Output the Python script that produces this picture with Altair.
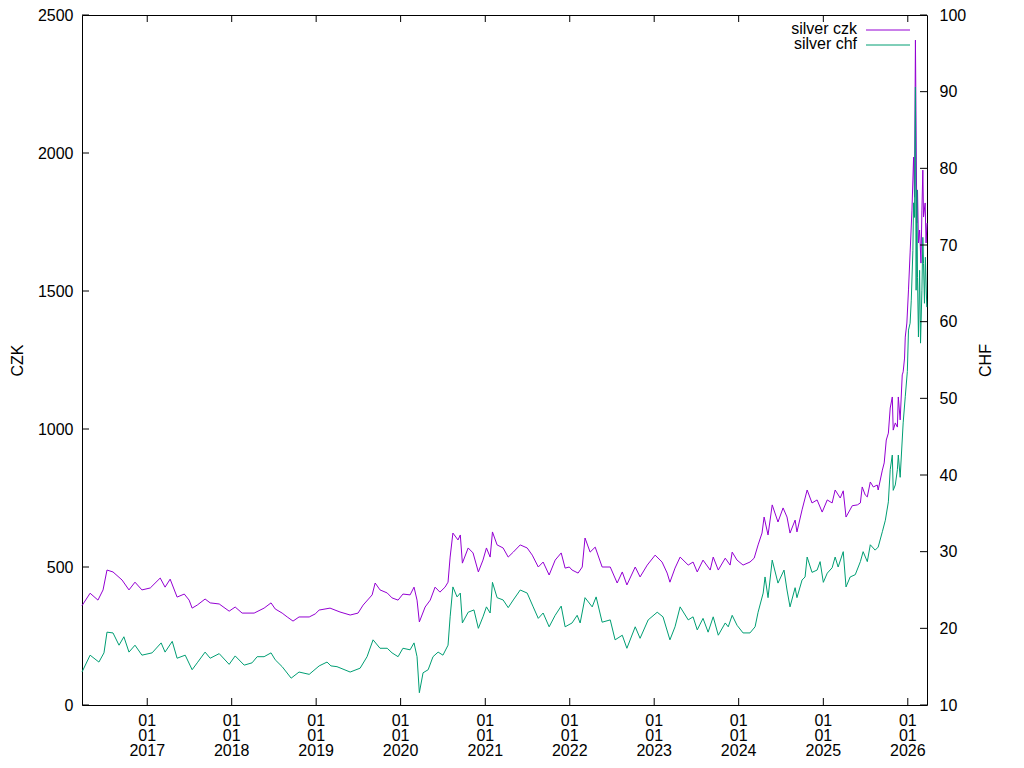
import altair as alt
import pandas as pd

# ---------------- data ----------------
czk_dates = [
    "2016-03-25", "2016-04-29", "2016-06-02", "2016-06-24", "2016-07-11", "2016-08-06", "2016-09-14",
    "2016-10-14", "2016-11-09", "2016-12-09", "2017-01-14", "2017-02-26", "2017-03-19", "2017-04-10",
    "2017-05-10", "2017-06-10", "2017-07-01", "2017-07-14", "2017-08-05", "2017-09-08", "2017-09-30",
    "2017-11-08", "2017-12-21", "2018-01-16", "2018-02-15", "2018-04-08", "2018-05-21", "2018-06-20",
    "2018-07-08", "2018-08-07", "2018-08-29", "2018-09-23", "2018-10-19", "2018-12-02", "2018-12-28",
    "2019-01-14", "2019-03-02", "2019-04-14", "2019-05-28", "2019-07-01", "2019-07-23", "2019-08-31",
    "2019-09-13", "2019-10-04", "2019-11-04", "2019-11-25", "2019-12-21", "2020-01-11", "2020-02-11",
    "2020-02-28", "2020-03-12", "2020-03-22", "2020-04-16", "2020-05-08", "2020-05-29", "2020-06-19",
    "2020-07-11", "2020-07-24", "2020-08-02", "2020-08-14", "2020-09-05", "2020-09-15", "2020-09-24",
    "2020-10-19", "2020-11-09", "2020-12-02", "2020-12-22", "2021-01-06", "2021-01-22", "2021-02-01",
    "2021-02-21", "2021-03-19", "2021-04-10", "2021-05-02", "2021-06-01", "2021-07-01", "2021-07-23",
    "2021-08-18", "2021-09-08", "2021-10-04", "2021-10-30", "2021-11-25", "2021-12-12", "2021-12-30",
    "2022-01-11", "2022-02-06", "2022-02-24", "2022-03-08", "2022-03-30", "2022-04-21", "2022-05-21",
    "2022-06-25", "2022-07-25", "2022-08-16", "2022-09-05", "2022-10-11", "2022-11-01", "2022-12-02",
    "2023-01-05", "2023-02-04", "2023-02-26", "2023-03-10", "2023-04-01", "2023-04-23", "2023-05-28",
    "2023-06-18", "2023-07-06", "2023-07-31", "2023-08-31", "2023-09-13", "2023-10-05", "2023-11-04",
    "2023-11-25", "2023-12-04", "2023-12-25", "2024-01-20", "2024-02-19", "2024-03-08", "2024-03-25",
    "2024-04-11", "2024-04-20", "2024-05-07", "2024-05-25", "2024-06-19", "2024-07-11", "2024-07-28",
    "2024-08-10", "2024-09-01", "2024-09-09", "2024-10-01", "2024-10-23", "2024-11-13", "2024-12-05",
    "2024-12-27", "2025-01-18", "2025-02-08", "2025-02-21", "2025-03-15", "2025-03-28", "2025-04-09",
    "2025-05-06", "2025-05-28", "2025-06-10", "2025-06-18", "2025-07-01", "2025-07-10", "2025-07-23",
    "2025-08-05", "2025-08-22", "2025-08-26", "2025-09-13", "2025-09-21", "2025-09-30", "2025-10-09",
    "2025-10-17", "2025-10-26", "2025-10-30", "2025-11-08", "2025-11-17", "2025-11-21", "2025-11-29",
    "2025-12-08", "2025-12-12", "2025-12-18", "2025-12-21", "2025-12-28", "2026-01-04", "2026-01-11",
    "2026-01-19", "2026-01-23", "2026-01-26", "2026-01-30", "2026-02-03", "2026-02-09", "2026-02-12",
    "2026-02-16", "2026-02-21", "2026-02-27", "2026-03-03", "2026-03-07", "2026-03-10", "2026-03-17",
    "2026-03-21", "2026-03-25",
]
czk_values = [
    360, 405, 380, 417, 489, 482, 453,
    417, 445, 417, 424, 460, 427, 456,
    391, 402, 380, 351, 362, 384, 370,
    366, 340, 355, 333, 333, 351, 370,
    348, 333, 319, 304, 319, 319, 330,
    344, 351, 337, 326, 333, 362, 399,
    442, 417, 406, 388, 380, 402, 399,
    427, 380, 301, 355, 380, 427, 409,
    427, 445, 536, 623, 598, 616, 514,
    569, 551, 482, 525, 569, 536, 627,
    580, 569, 536, 554, 580, 569, 543,
    500, 518, 471, 525, 551, 496, 500,
    489, 478, 500, 605, 554, 572, 500,
    500, 442, 482, 435, 500, 464, 507,
    543, 518, 478, 445, 496, 536, 507,
    518, 482, 525, 489, 536, 489, 532,
    507, 554, 525, 507, 518, 532, 580,
    623, 681, 616, 725, 663, 714, 681,
    623, 670, 627, 707, 779, 732, 743,
    699, 743, 732, 779, 750, 776, 681,
    722, 725, 732, 790, 761, 754, 808,
    790, 797, 779, 851, 877, 960, 985,
    1076, 1116, 996, 1022, 1007, 1116, 1033,
    1196, 1207, 1257, 1333, 1384, 1504, 1638,
    1793, 1902, 1985, 1840, 2409, 1746, 1866,
    1674, 1721, 1601, 1793, 1938, 1768, 1819,
    1674, 1746,
]

chf_dates = [
    "2016-03-25", "2016-04-29", "2016-06-06", "2016-06-28", "2016-07-11", "2016-08-06", "2016-09-01",
    "2016-09-22", "2016-10-14", "2016-11-09", "2016-12-09", "2017-01-22", "2017-03-02", "2017-03-19",
    "2017-04-19", "2017-05-10", "2017-06-14", "2017-07-14", "2017-08-05", "2017-09-08", "2017-09-30",
    "2017-11-08", "2017-12-21", "2018-01-16", "2018-02-24", "2018-03-30", "2018-04-21", "2018-05-21",
    "2018-06-20", "2018-07-08", "2018-08-07", "2018-09-15", "2018-10-19", "2018-12-02", "2019-01-14",
    "2019-02-17", "2019-03-06", "2019-04-01", "2019-05-28", "2019-07-10", "2019-08-09", "2019-09-04",
    "2019-10-04", "2019-11-04", "2019-11-25", "2019-12-21", "2020-01-11", "2020-02-11", "2020-02-28",
    "2020-03-12", "2020-03-22", "2020-04-07", "2020-04-29", "2020-05-20", "2020-06-11", "2020-07-02",
    "2020-07-24", "2020-08-02", "2020-08-14", "2020-09-01", "2020-09-15", "2020-09-24", "2020-10-19",
    "2020-11-13", "2020-12-02", "2020-12-22", "2021-01-06", "2021-01-22", "2021-02-01", "2021-02-21",
    "2021-03-19", "2021-04-10", "2021-05-02", "2021-06-01", "2021-07-01", "2021-07-27", "2021-08-18",
    "2021-09-08", "2021-10-04", "2021-10-30", "2021-11-25", "2021-12-12", "2022-01-11", "2022-02-02",
    "2022-02-15", "2022-03-08", "2022-04-08", "2022-04-25", "2022-05-21", "2022-06-25", "2022-07-16",
    "2022-08-16", "2022-09-05", "2022-10-11", "2022-11-01", "2022-12-06", "2023-01-14", "2023-02-08",
    "2023-03-10", "2023-04-01", "2023-04-23", "2023-05-28", "2023-06-18", "2023-07-06", "2023-07-31",
    "2023-08-22", "2023-09-13", "2023-10-05", "2023-11-04", "2023-11-17", "2023-12-04", "2023-12-25",
    "2024-01-20", "2024-02-19", "2024-03-12", "2024-03-25", "2024-04-16", "2024-04-24", "2024-05-07",
    "2024-05-25", "2024-06-19", "2024-07-15", "2024-07-28", "2024-08-10", "2024-09-01", "2024-09-09",
    "2024-10-01", "2024-10-14", "2024-10-23", "2024-11-13", "2024-12-05", "2024-12-18", "2025-01-01",
    "2025-01-18", "2025-02-08", "2025-02-21", "2025-03-06", "2025-03-28", "2025-04-09", "2025-04-27",
    "2025-05-19", "2025-06-10", "2025-06-22", "2025-07-10", "2025-07-23", "2025-08-13", "2025-08-26",
    "2025-09-13", "2025-09-26", "2025-10-09", "2025-10-17", "2025-10-26", "2025-10-30", "2025-11-08",
    "2025-11-17", "2025-11-21", "2025-11-29", "2025-12-12", "2025-12-21", "2025-12-30", "2026-01-04",
    "2026-01-11", "2026-01-16", "2026-01-23", "2026-01-26", "2026-01-30", "2026-02-03", "2026-02-06",
    "2026-02-09", "2026-02-12", "2026-02-16", "2026-02-21", "2026-02-25", "2026-03-03", "2026-03-07",
    "2026-03-10", "2026-03-14", "2026-03-18", "2026-03-24",
]
chf_values = [
    14.3, 16.5, 15.6, 16.8, 19.5, 19.4, 17.8,
    18.9, 16.9, 17.8, 16.5, 16.8, 18.1, 16.9,
    18.3, 16.1, 16.5, 14.6, 15.5, 16.9, 16.1,
    16.7, 15.3, 16.4, 15.2, 15.5, 16.3, 16.3,
    16.8, 15.9, 15.0, 13.5, 14.3, 14.0, 15.1,
    15.6, 15.1, 15.0, 14.3, 14.8, 16.3, 18.5,
    17.4, 17.4, 16.8, 16.3, 17.4, 17.2, 18.1,
    16.3, 11.6, 14.2, 14.6, 16.3, 16.9, 16.5,
    17.8, 21.5, 25.4, 24.1, 24.6, 20.7, 22.1,
    22.4, 20.0, 21.5, 22.8, 22.0, 26.0, 24.0,
    23.7, 22.7, 23.7, 25.0, 24.6, 22.8, 21.3,
    22.0, 20.2, 21.7, 22.9, 20.2, 20.7, 21.7,
    20.7, 24.0, 22.8, 24.1, 20.8, 21.1, 18.5,
    19.1, 17.4, 20.2, 18.7, 21.1, 22.1, 21.5,
    18.5, 20.2, 22.8, 21.1, 21.5, 19.8, 21.3,
    19.5, 21.5, 19.1, 20.7, 20.2, 21.7, 20.4,
    19.4, 19.4, 20.2, 22.1, 24.6, 26.7, 24.0,
    28.9, 25.9, 27.6, 25.0, 22.8, 25.3, 24.0,
    26.3, 26.7, 29.3, 27.3, 27.6, 28.7, 26.0,
    27.2, 27.9, 29.3, 28.0, 30.0, 25.4, 26.7,
    27.0, 28.7, 30.0, 28.7, 30.9, 30.2, 30.6,
    32.6, 34.1, 36.5, 40.7, 42.6, 38.0, 38.7,
    40.7, 42.6, 39.7, 46.8, 50.2, 53.5, 58.9,
    59.8, 62.8, 69.3, 75.5, 73.6, 90.6, 64.1,
    77.2, 65.8, 58.0, 66.7, 57.2, 64.1, 71.0,
    67.6, 62.4, 68.4, 61.9,
]

czk_ticks = [0, 500, 1000, 1500, 2000, 2500]
chf_ticks = [10, 20, 30, 40, 50, 60, 70, 80, 90, 100]
year_ticks = [2017, 2018, 2019, 2020, 2021, 2022, 2023, 2024, 2025, 2026]
x_tick_labels = [f"01\n01\n{y}" for y in year_ticks]
series_names = ["silver czk", "silver chf"]
series_colors = ["#9400D3", "#009E73"]
axis_titles = ["CZK", "CHF"]

# ---------------- layout ----------------
W, H = 845, 690
FONT = "Liberation Sans"
FS = 16
TICK = 7

czk_df = pd.DataFrame({"date": czk_dates, "value": czk_values})
chf_df = pd.DataFrame({"date": chf_dates, "value": chf_values})
xtick_df = pd.DataFrame({"date": [f"{y}-01-01" for y in year_ticks], "label": x_tick_labels})
czk_tick_df = pd.DataFrame({"value": czk_ticks})
chf_tick_df = pd.DataFrame({"value": chf_ticks})

xscale = alt.Scale(
    type="utc",
    domain=[alt.DateTime(year=2016, month=3, date=25, utc=True),
            alt.DateTime(year=2026, month=3, date=25, utc=True)],
)
czk_scale = alt.Scale(domain=[0, 2500], nice=False, zero=False)
chf_scale = alt.Scale(domain=[10, 100], nice=False, zero=False)

left_axis = alt.Axis(
    values=czk_ticks, format="d", ticks=False, tickSize=0, domain=False, grid=False,
    labelPadding=9, labelFont=FONT, labelFontSize=FS, labelColor="black",
    title=axis_titles[0], titleX=-65, titleY=H / 2, titleAngle=270,
    titleAlign="center", titleBaseline="middle", titleFont=FONT,
    titleFontSize=FS, titleFontWeight="normal", titleColor="black",
)
right_axis = alt.Axis(
    orient="right", values=chf_ticks, format="d", ticks=False, tickSize=0,
    domain=False, grid=False, labelPadding=12, labelFont=FONT, labelFontSize=FS,
    labelColor="black",
    title=axis_titles[1], titleX=58, titleY=H / 2, titleAngle=270,
    titleAlign="center", titleBaseline="middle", titleFont=FONT,
    titleFontSize=FS, titleFontWeight="normal", titleColor="black",
)

czk_line = alt.Chart(czk_df).mark_line(color=series_colors[0], strokeWidth=1).encode(
    x=alt.X("date:T", scale=xscale, axis=None),
    y=alt.Y("value:Q", scale=czk_scale, axis=left_axis),
)
chf_line = alt.Chart(chf_df).mark_line(color=series_colors[1], strokeWidth=1).encode(
    x=alt.X("date:T", scale=xscale, axis=None),
    y=alt.Y("value:Q", scale=chf_scale, axis=right_axis),
)

left_ticks = alt.Chart(czk_tick_df).mark_rule(color="black", strokeWidth=1).encode(
    y=alt.Y("value:Q", scale=czk_scale, axis=None),
    x=alt.value(0), x2=alt.value(TICK),
)
right_ticks = alt.Chart(chf_tick_df).mark_rule(color="black", strokeWidth=1).encode(
    y=alt.Y("value:Q", scale=chf_scale, axis=None),
    x=alt.value(W - TICK), x2=alt.value(W),
)
bottom_ticks = alt.Chart(xtick_df).mark_rule(color="black", strokeWidth=1).encode(
    x=alt.X("date:T", scale=xscale, axis=None),
    y=alt.value(H - TICK), y2=alt.value(H),
)
top_ticks = alt.Chart(xtick_df).mark_rule(color="black", strokeWidth=1).encode(
    x=alt.X("date:T", scale=xscale, axis=None),
    y=alt.value(0), y2=alt.value(TICK),
)
x_labels = alt.Chart(xtick_df).mark_text(
    align="center", baseline="top", lineBreak="\n", lineHeight=15,
    font=FONT, fontSize=FS, color="black",
).encode(
    x=alt.X("date:T", scale=xscale, axis=None),
    y=alt.value(H + 8),
    text="label:N",
)

legend_layers = []
for i, (name, col) in enumerate(zip(series_names, series_colors)):
    ly = 15 + 15 * i
    ldf = pd.DataFrame({"label": [name]})
    legend_layers.append(
        alt.Chart(ldf).mark_text(align="right", baseline="alphabetic", font=FONT,
                                 fontSize=FS, color="black").encode(
            text="label:N", x=alt.value(775), y=alt.value(ly + 4))
    )
    legend_layers.append(
        alt.Chart(ldf).mark_rule(color=col, strokeWidth=1).encode(
            x=alt.value(784), x2=alt.value(828), y=alt.value(ly))
    )

chart = alt.layer(
    czk_line, chf_line, left_ticks, right_ticks, bottom_ticks, top_ticks, x_labels,
    *legend_layers
).resolve_scale(y="independent").properties(
    width=W, height=H,
    autosize=alt.AutoSizeParams(type="none"),
    padding={"left": 74, "top": 7, "right": 89, "bottom": 55},
).configure(
    font=FONT, background="white"
).configure_view(
    stroke="black", strokeWidth=1
)

chart.save("out.html", embed_options={"renderer": "svg", "actions": False})
